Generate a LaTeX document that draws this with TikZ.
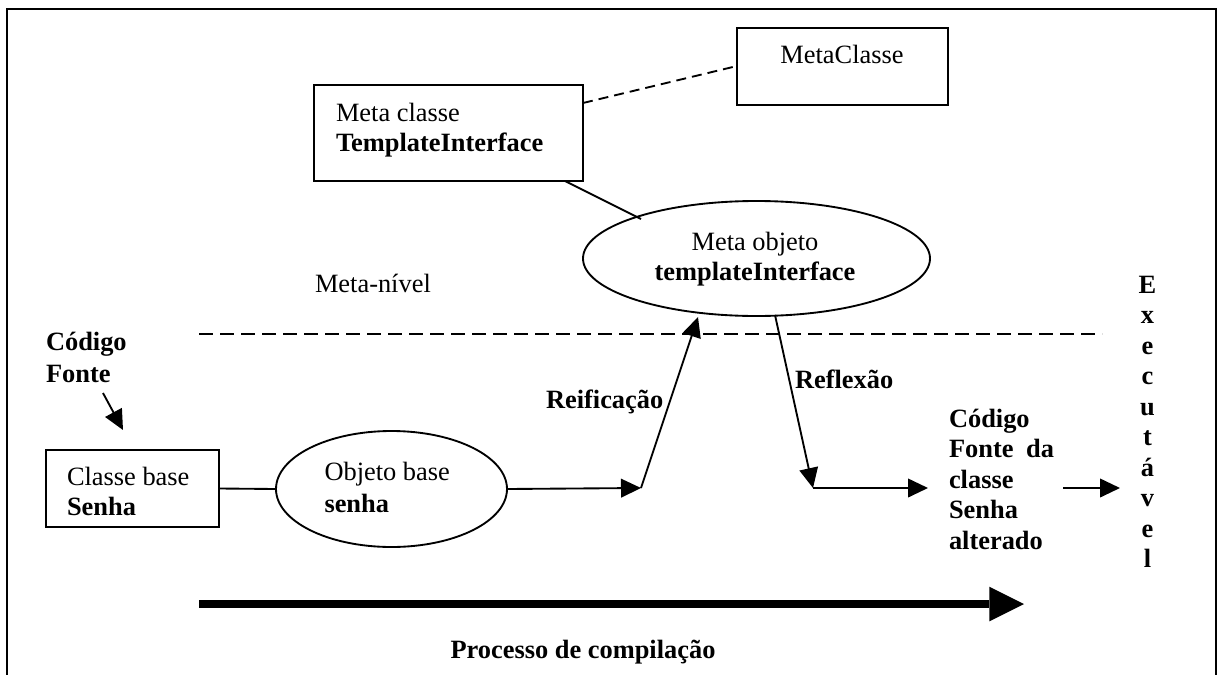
\documentclass[tikz,border=0pt]{standalone}
\usepackage{fontspec}
\setmainfont{Liberation Serif}
\usetikzlibrary{arrows.meta,shapes.geometric,calc}
% stacked lines whose baseline is that of the first line
\newcommand{\stackl}[1]{\begin{tabular}[t]{@{}l@{}}#1\end{tabular}}
\newcommand{\stackc}[1]{\begin{tabular}[t]{@{}c@{}}#1\end{tabular}}

\begin{document}
\begin{tikzpicture}[x=0.75pt,y=-0.75pt,
  every node/.style={font=\fontsize{19.8}{23}\selectfont, inner sep=0pt, outer sep=0pt},
  box/.style={draw, line width=1.4pt, rectangle, anchor=north west},
  oval/.style={draw, line width=1.4pt, ellipse},
  txt/.style={anchor=base west},
  link/.style={line width=1.4pt},
  arr/.style={line width=1.4pt, -{Triangle[length=15pt,width=14pt]}},
  bigarr/.style={line width=6pt, -{Triangle[length=26pt,width=26pt,line width=0pt]}},
]
\useasboundingbox (0,0) rectangle (1218,675);

% outer frame, running past the lower edge
\begin{scope}
  \clip (0,0) rectangle (1218,675);
  \draw[line width=1.7pt] (7,9) rectangle (1216,720);
\end{scope}

% boxes and ellipses
\node[box, minimum width=158.25pt, minimum height=57.75pt] (mc) at (737,28) {};
\node[box, minimum width=201.75pt, minimum height=72pt] (ti) at (314,85) {};
\node[oval, minimum width=260.25pt, minimum height=86.25pt] (mo) at (756.5,258.5) {};
\node[box, minimum width=129.75pt, minimum height=57.75pt] (cb) at (46,450) {};
\node[oval, minimum width=173.25pt, minimum height=87pt] (ob) at (391.5,489) {};

% texts
\node[anchor=base] (mct) at (842,63) {MetaClasse};
\node[txt] (tit) at (336,121) {\stackl{Meta classe\\\textbf{TemplateInterface}}};
\node[anchor=base, font=\fontsize{19.8}{22.5}\selectfont] (mot) at (755,250)
  {\stackc{Meta objeto\\\textbf{templateInterface}}};
\node[txt] (mn) at (315,292) {Meta-nível};
\node[txt, font=\fontsize{19.8}{24}\selectfont] (cf) at (46,350)
  {\stackl{\textbf{Código}\\\textbf{Fonte}}};
\node[txt, font=\fontsize{19.8}{22.5}\selectfont] (cbt) at (67,485)
  {\stackl{Classe base\\\textbf{Senha}}};
\node[txt, font=\fontsize{19.8}{24}\selectfont] (obt) at (324.5,480)
  {\stackl{Objeto base\\\textbf{senha}}};
\node[txt] (reif) at (546,408) {\textbf{Reificação}};
\node[txt] (refl) at (795,388) {\textbf{Reflexão}};
\node[txt, font=\fontsize{19.8}{22.9}\selectfont\bfseries] (cfa) at (949,427)
  {\stackl{Código\\Fonte\hspace{4.5pt} da\\classe\\Senha\\alterado}};
\node[anchor=base, font=\fontsize{19.8}{22.9}\selectfont\bfseries] (exe) at (1147.5,293)
  {\stackc{E\\x\\e\\c\\u\\t\\á\\v\\e\\l}};
\node[anchor=base] (proc) at (583,658) {\textbf{Processo de compilação}};

% connector end points
\coordinate (ml1) at (199,334);
\coordinate (ml2) at (1102,334);
\coordinate (cf1) at (103,393);
\coordinate (cf2) at (123,430);
\coordinate (c1) at (641,488);
\coordinate (r2) at (698,317);
\coordinate (rf1) at (775,315);
\coordinate (c2) at (813,488);
\coordinate (c3) at (928,488);
\coordinate (e1) at (1063,488);
\coordinate (e2) at (1120,488);
\coordinate (p1) at (199,604);
\coordinate (p2) at (1024,604);

% connectors
\draw[link, dash pattern=on 7.5pt off 4.5pt]
  ([yshift=-13.5pt]ti.north east) -- ([yshift=-28.5pt]mc.north west);
\draw[link] ([xshift=-13.5pt]ti.south east) -- ($(mo.center)+(-115.5,-39.5)$);
\draw[link, dash pattern=on 10.5pt off 5.25pt] (ml1) -- (ml2);
\draw[arr] (cf1) -- (cf2);
\draw[link] (cb.east) -- (ob.west);
\draw[arr] (ob.east) -- (c1);
\draw[arr] (c1) -- (r2);
\draw[arr] (rf1) -- (c2);
\draw[arr] (c2) -- (c3);
\draw[arr] (e1) -- (e2);
\draw[bigarr] (p1) -- (p2);
\end{tikzpicture}
\end{document}
